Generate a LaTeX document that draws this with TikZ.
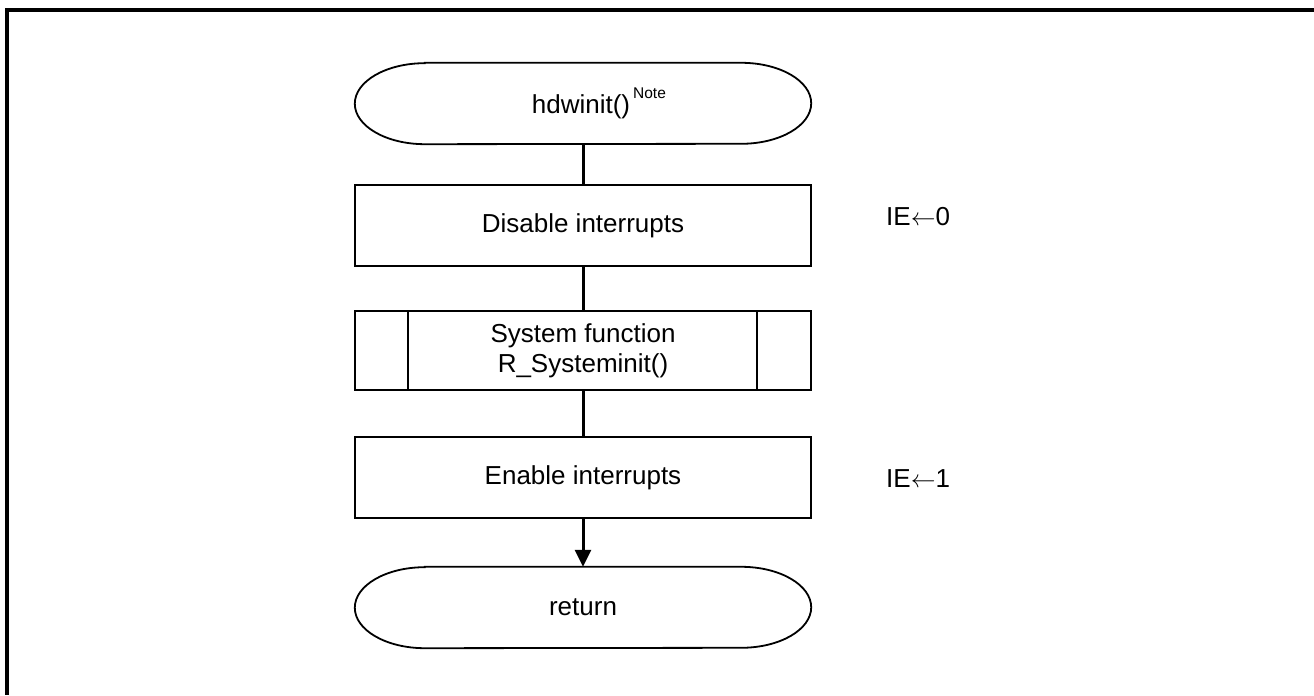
\documentclass[tikz,border=0pt]{standalone}
\usepackage{fontspec}
\setmainfont{Liberation Sans}
\usetikzlibrary{arrows.meta,calc}
\newcommand\termshape[1]{%
  \draw[boxline] ($(#1.north west)+(70bp,0)$) -- ($(#1.north east)+(-70bp,0)$)
    arc[start angle=90,end angle=-90,x radius=70bp,y radius=40.5bp]
    -- ($(#1.south west)+(70bp,0)$)
    arc[start angle=270,end angle=90,x radius=70bp,y radius=40.5bp] -- cycle;}
\begin{document}
\begin{tikzpicture}[x=1bp,y=1bp,
  boxline/.style={line width=1.8bp},
  flow/.style={line width=3bp},
  txt/.style={font=\fontsize{26bp}{30bp}\selectfont},
  procbox/.style={draw, boxline, txt, minimum width=456bp, minimum height=81bp, inner sep=0pt, align=center},
  termbox/.style={txt, minimum width=456bp, minimum height=81bp, inner sep=0pt},
  note/.style={txt, anchor=west, inner sep=0pt}
]
\fill[white] (0,0) rectangle (1314,695);
\useasboundingbox (0,0) rectangle (1314,695);
\draw[line width=3.5bp, line cap=butt] (1314,685) -- (7,685) -- (7,0);

\node[termbox] (start) at (583,591.5) {\hspace*{-4bp}hdwinit()\rlap{\hspace{3bp}\raisebox{15bp}{\fontsize{15.5bp}{18bp}\selectfont Note}}};
\termshape{start}
\node[procbox] (dis) at (583,469.5) {Disable interrupts};
\node[procbox, minimum height=79bp] (sys) at (583,344.5) {System function\\R\_Systeminit()};
\draw[boxline] ($(sys.north west)+(54bp,0)$) -- ($(sys.south west)+(54bp,0)$);
\draw[boxline] ($(sys.north east)+(-55bp,0)$) -- ($(sys.south east)+(-55bp,0)$);
\node[procbox] (en) at (583,217.5) {Enable interrupts};
\node[termbox] (ret) at (583,87.5) {return};
\termshape{ret}

\node[note] (ie0) at (886,478) {IE$\leftarrow$0};
\node[note] (ie1) at (886,216) {IE$\leftarrow$1};

\draw[flow] (start.south) -- (dis.north);
\draw[flow] (dis.south) -- (sys.north);
\draw[flow] (sys.south) -- (en.north);
\draw[flow,-{Triangle[width=16bp,length=17bp]}] (en.south) -- (ret.north);
\end{tikzpicture}
\end{document}
